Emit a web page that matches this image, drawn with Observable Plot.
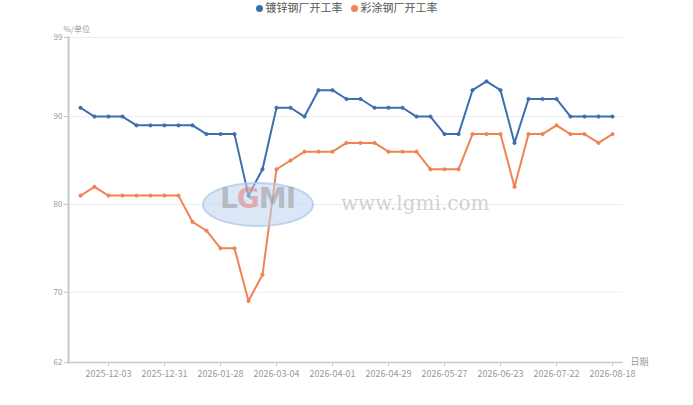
<!DOCTYPE html>
<html>
<head>
<meta charset="utf-8">
<script src="https://cdn.jsdelivr.net/npm/d3@7"></script>
<script src="https://cdn.jsdelivr.net/npm/@observablehq/plot@0.6"></script>
<style>
  body { margin: 0; background: #fff; font-family: "Noto Sans CJK SC", "Noto Sans", sans-serif; }
  #wrap { position: relative; width: 693px; height: 405px; }
  #legend { height: 18px; display: flex; justify-content: center; align-items: flex-start; gap: 8px; font-size: 11px; line-height: 14px; color: #555; }
  #legend span.dot { display: inline-block; width: 7px; height: 7px; border-radius: 50%; margin-right: 3px; vertical-align: 0px; }
  .wm { position: absolute; pointer-events: none; }
</style>
</head>
<body>
<div id="wrap">
  <div id="legend"></div>
  <div id="chart"></div>
  <div class="wm" style="left:202px;top:182px;width:108px;height:41px;border-radius:50%;background:rgba(190,212,238,0.55);border:2px solid rgba(170,196,230,0.6);"></div>
  <div class="wm" style="left:210px;top:182px;width:95px;text-align:center;font:bold 28px 'DejaVu Sans', sans-serif;letter-spacing:-1px;color:rgba(150,150,150,0.55);">L<span style="color:rgba(230,120,120,0.55)">G</span>MI</div>
  <div class="wm" style="left:341px;top:191px;font:20px 'DejaVu Serif', 'Liberation Serif', serif;color:rgba(190,190,190,0.7);">www.lgmi.com</div>
</div>
<script>
const dates = [
  '2025-11-19','2025-11-26','2025-12-03','2025-12-10','2025-12-17','2025-12-24','2025-12-31',
  '2026-01-07','2026-01-14','2026-01-21','2026-01-28','2026-02-04','2026-02-11','2026-02-25',
  '2026-03-04','2026-03-11','2026-03-18','2026-03-25','2026-04-01','2026-04-08','2026-04-15',
  '2026-04-22','2026-04-29','2026-05-06','2026-05-13','2026-05-20','2026-05-27','2026-06-03',
  '2026-06-10','2026-06-17','2026-06-23','2026-07-01','2026-07-08','2026-07-15','2026-07-22',
  '2026-07-29','2026-08-05','2026-08-12','2026-08-18'
]
const galvanized = [
  91, 90, 90, 90, 89, 89, 89, 89, 89, 88, 88, 88, 81, 84,
  91, 91, 90, 93, 93, 92, 92, 91, 91, 91, 90, 90, 88, 88,
  93, 94, 93, 87, 92, 92, 92, 90, 90, 90, 90
]
const colorCoated = [
  81, 82, 81, 81, 81, 81, 81, 81, 78, 77, 75, 75, 69, 72,
  84, 85, 86, 86, 86, 87, 87, 87, 86, 86, 86, 84, 84, 84,
  88, 88, 88, 82, 88, 88, 89, 88, 88, 87, 88
]
const xTicks = ['2025-12-03','2025-12-31','2026-01-28','2026-03-04','2026-04-01','2026-04-29','2026-05-27','2026-06-23','2026-07-22','2026-08-18']
const yTicks = [62, 70, 80, 90, 99]
const seriesNames = ['镀锌钢厂开工率', '彩涂钢厂开工率']
const seriesColors = ['#3b6fb0', '#ef8452']

const rows = []
dates.forEach((d, i) => {
  rows.push({date: d, value: galvanized[i], series: seriesNames[0]})
  rows.push({date: d, value: colorCoated[i], series: seriesNames[1]})
})

d3.select('#legend').selectAll('div')
  .data(seriesNames)
  .join('div')
  .html((d, i) => `<span class="dot" style="background:${seriesColors[i]}"></span>${d}`)

const chart = Plot.plot({
  width: 693,
  height: 387,
  marginTop: 19,
  marginBottom: 43,
  marginLeft: 68,
  marginRight: 70,
  style: {fontFamily: '"Noto Sans CJK SC", "Noto Sans", sans-serif', color: '#999'},
  x: {type: 'point', domain: dates, padding: 0.5},
  y: {domain: [62, 99]},
  color: {domain: seriesNames, range: seriesColors},
  marks: [
    Plot.gridY(yTicks.slice(1), {stroke: '#e9edf4', strokeOpacity: 1}),
    Plot.ruleY([62], {stroke: '#c8c8c8', strokeWidth: 1.5}),
    Plot.frame({anchor: 'left', stroke: '#c8c8c8', strokeWidth: 2}),
    Plot.axisY({ticks: yTicks, tickSize: 4, tickPadding: 2, fontSize: 8, label: null, fill: '#999', stroke: '#c8c8c8'}),
    Plot.axisX({ticks: xTicks, tickSize: 4, tickPadding: 4, fontSize: 9, label: null, fill: '#999', stroke: '#c8c8c8'}),
    Plot.line(rows, {x: 'date', y: 'value', stroke: 'series', strokeWidth: 2}),
    Plot.dot(rows, {x: 'date', y: 'value', stroke: 'series', fill: 'series', r: 1.6, strokeWidth: 1}),
    Plot.text(['日期'], {frameAnchor: 'bottom-right', lineAnchor: 'middle', textAnchor: 'start', dx: 7, fontSize: 9, fill: '#999'}),
    Plot.text(['%/单位'], {frameAnchor: 'top-left', dx: -5, dy: -11, fontSize: 8, fill: '#999'})
  ]
})
d3.select('#chart').append(() => chart)
</script>
</body>
</html>
